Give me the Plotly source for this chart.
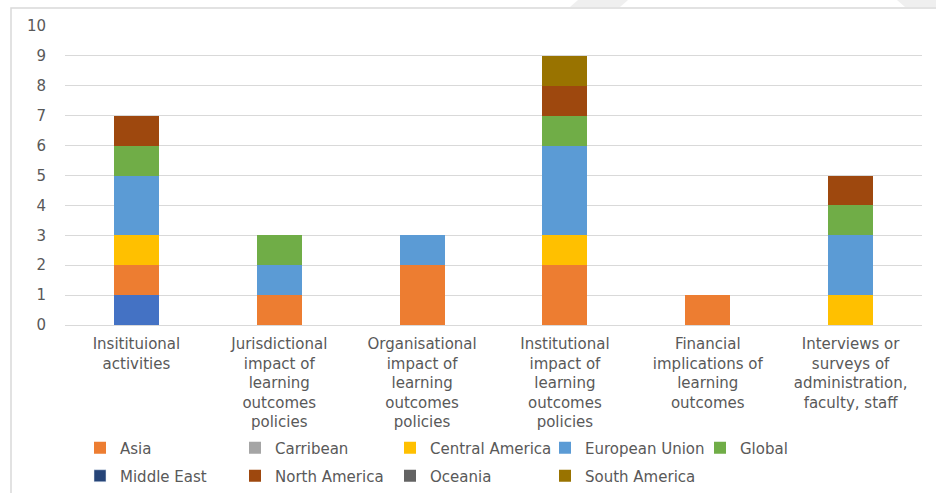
import plotly.graph_objects as go

categories = [
    "Insitituional<br>activities",
    "Jurisdictional<br>impact of<br>learning<br>outcomes<br>policies",
    "Organisational<br>impact of<br>learning<br>outcomes<br>policies",
    "Institutional<br>impact of<br>learning<br>outcomes<br>policies",
    "Financial<br>implications of<br>learning<br>outcomes",
    "Interviews or<br>surveys of<br>administration,<br>faculty, staff",
]

middle_east = [1, 0, 0, 0, 0, 0]
asia = [1, 1, 2, 2, 1, 0]
carribean = [0, 0, 0, 0, 0, 0]
central_america = [1, 0, 0, 1, 0, 1]
european_union = [2, 1, 1, 3, 0, 2]
global_ = [1, 1, 0, 1, 0, 1]
north_america = [1, 0, 0, 1, 0, 1]
oceania = [0, 0, 0, 0, 0, 0]
south_america = [0, 0, 0, 1, 0, 0]

y_ticks = list(range(0, 11))

W, H = 936, 493
ML, MR, MT, MB = 65, 14, 26, 168
PW, PH = W - ML - MR, H - MT - MB


def px(x):
    return (x - ML) / PW


def py(y):
    return (H - MB - y) / PH


fig = go.Figure()

series = [
    # name, values, bar color, legend id, show legend, legend rank
    ("Middle East", middle_east, "#4472C4", None, False, 1000),
    ("Asia", asia, "#ED7D31", "legend", True, 1),
    ("Carribean", carribean, "#A5A5A5", "legend", True, 2),
    ("Central America", central_america, "#FFC000", "legend", True, 3),
    ("European Union", european_union, "#5B9BD5", "legend", True, 4),
    ("Global", global_, "#70AD47", "legend", True, 5),
    ("North America", north_america, "#9E480E", "legend2", True, 2),
    ("Oceania", oceania, "#636363", "legend2", True, 3),
    ("South America", south_america, "#997300", "legend2", True, 4),
]

for name, vals, color, leg, show, rank in series:
    kw = dict(x=categories, y=vals, name=name, marker_color=color,
              marker_line_width=0, showlegend=show, legendrank=rank)
    if leg:
        kw["legend"] = leg
    fig.add_trace(go.Bar(**kw))

# legend-only entry for Middle East (legend swatch is darker navy)
fig.add_trace(go.Bar(x=[None], y=[None], name="Middle East", marker_color="#264478",
                     legend="legend2", legendrank=1, showlegend=True))

font_family = "DejaVu Sans"
FS = 15
legend_common = dict(
    orientation="h", entrywidth=110, entrywidthmode="pixels",
    bgcolor="rgba(0,0,0,0)", font=dict(family=font_family, size=FS, color="#595959"),
    xanchor="left", yanchor="middle", traceorder="normal",
)

fig.update_layout(
    width=W, height=H,
    margin=dict(l=ML, r=MR, t=MT, b=MB, autoexpand=False),
    barmode="stack", bargap=0.685,
    paper_bgcolor="white", plot_bgcolor="white",
    font=dict(family=font_family, size=FS, color="#595959"),
    legend=dict(x=px(80), y=py(448), **legend_common),
    legend2=dict(x=px(80), y=py(476), **legend_common),
    xaxis=dict(showgrid=False, showline=True, linecolor="#d9d9d9", linewidth=1,
               ticks="", tickfont=dict(size=FS, color="#595959"), ticklabelstandoff=5,
               fixedrange=True),
    yaxis=dict(range=[0, 10], tickvals=y_ticks, showgrid=True, gridcolor="#d9d9d9",
               gridwidth=1, zeroline=False, showline=False, ticks="",
               tickfont=dict(size=FS, color="#595959"), ticklabelstandoff=18,
               fixedrange=True),
    shapes=[
        dict(type="rect", xref="paper", yref="paper", x0=px(11), x1=px(W + 20),
             y0=py(H + 20), y1=py(8), line=dict(color="#d9d9d9", width=1.5),
             fillcolor="rgba(0,0,0,0)", layer="below"),
        dict(type="path", xref="paper", yref="paper",
             path=f"M{px(578)},{py(0)} L{px(628)},{py(0)} L{px(620)},{py(7)} L{px(570)},{py(7)} Z",
             fillcolor="#efefef", line=dict(width=0)),
        dict(type="path", xref="paper", yref="paper",
             path=f"M{px(897)},{py(0)} L{px(940)},{py(0)} L{px(940)},{py(7)} L{px(905)},{py(7)} Z",
             fillcolor="#efefef", line=dict(width=0)),
    ],
)

fig.write_html(
    "out.html",
    config={"displayModeBar": False, "staticPlot": False},
    post_script="document.body.style.margin='0';document.body.style.padding='0';"
                "document.body.style.overflow='hidden';",
)
